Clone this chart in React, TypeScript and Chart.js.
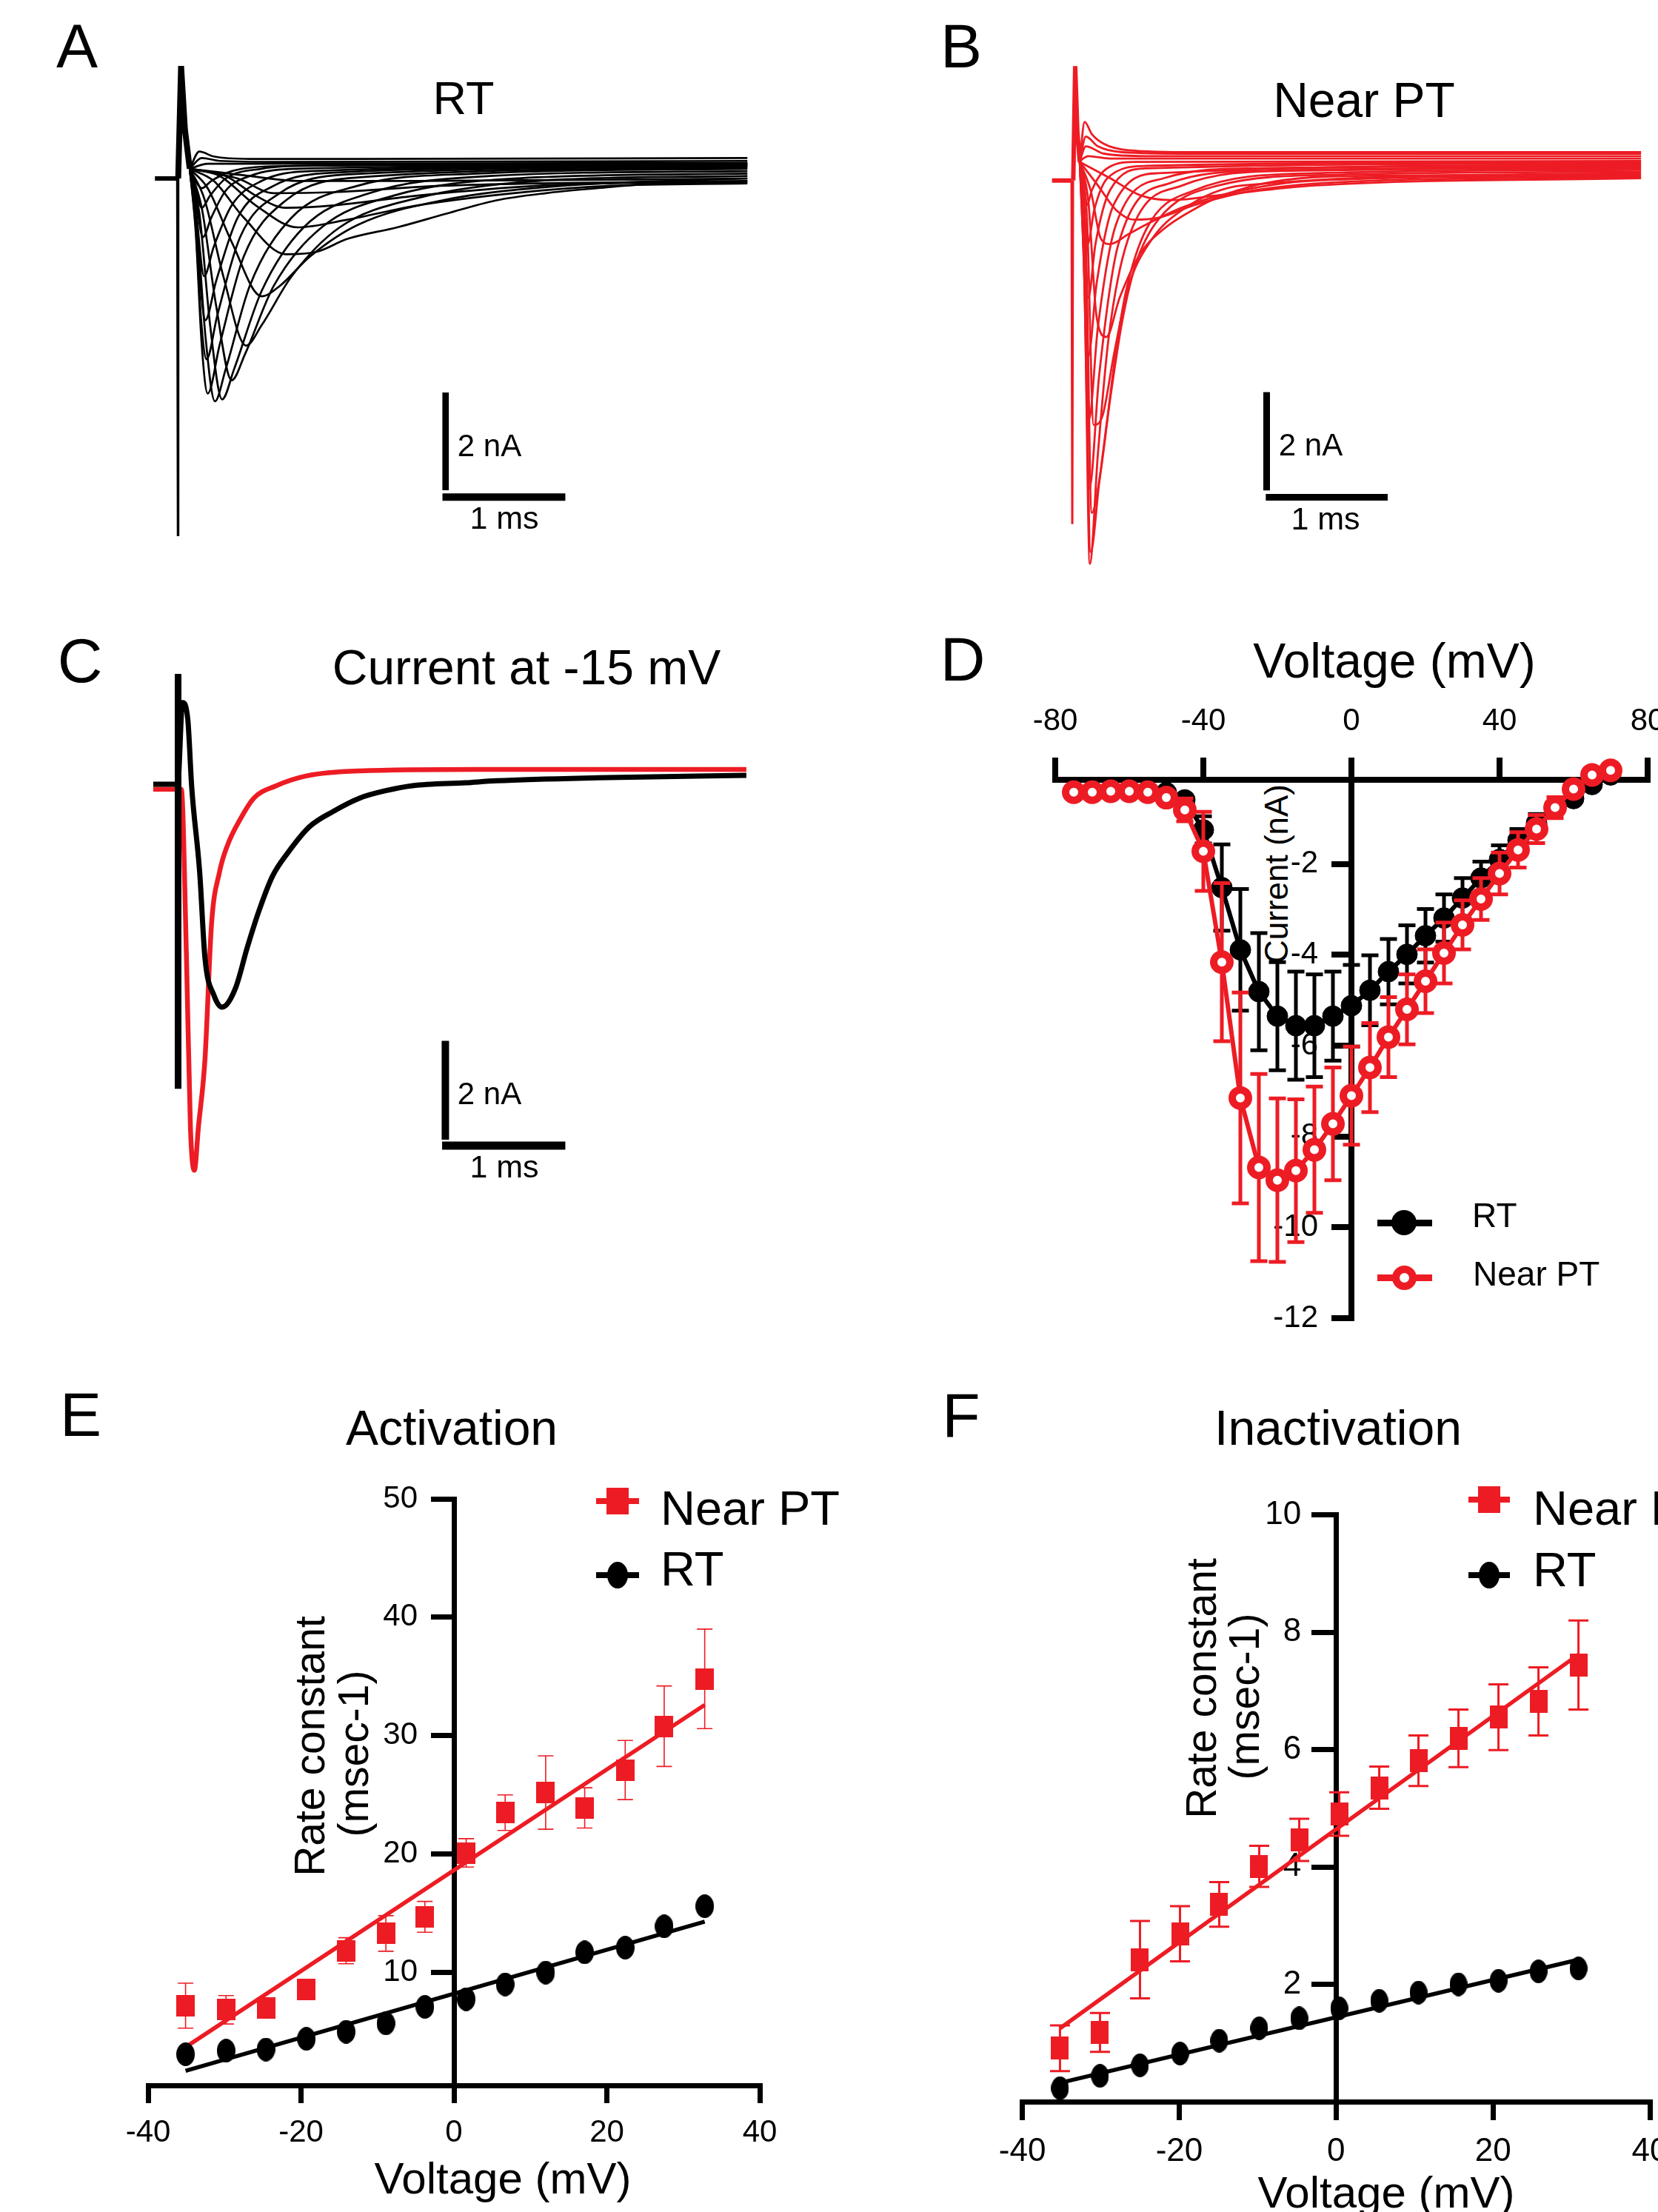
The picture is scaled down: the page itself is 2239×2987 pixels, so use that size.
import React, { useEffect, useRef } from 'react';
import { Chart, registerables } from 'chart.js';

Chart.register(...registerables);

const FONT = '"Liberation Sans", Arial, Helvetica, sans-serif';
const RED = '#ed1c24';
const BLACK = '#000000';

// ---------------- Panel A : RT current family (t in ms, I in nA) ----------------
const A_BASELINE = [[-0.19, 0], [-0.01, 0]];
const A_SPIKE_DOWN = [[-0.006, 0], [0.0, -7.3], [0.006, 0]];
const A_SPIKE_UP = [[0.004, 0], [0.028, 2.3], [0.06, 1.0], [0.1, 0.2]];
const A_TRACES = [
  [[0.1, 0.2], [0.18, 0.55], [0.3, 0.45], [0.6, 0.4], [1.5, 0.4], [4.75, 0.42]],
  [[0.1, 0.2], [0.2, 0.42], [0.35, 0.36], [0.8, 0.34], [4.75, 0.36]],
  [[0.1, 0.2], [0.25, 0.3], [0.5, 0.3], [4.75, 0.32]],
  [[0.1, 0.2], [0.16, -0.1], [0.2, -0.2], [0.28, -0.05], [0.45, 0.15], [0.8, 0.25], [4.75, 0.3]],
  [[0.1, 0.2], [0.15, -0.2], [0.2, -0.6], [0.27, -0.35], [0.4, 0.0], [0.7, 0.2], [1.2, 0.27], [4.75, 0.3]],
  [[0.1, 0.2], [0.15, -0.4], [0.21, -1.2], [0.28, -0.8], [0.4, -0.25], [0.6, 0.05], [1.0, 0.2], [4.75, 0.28]],
  [[0.1, 0.2], [0.15, -0.6], [0.22, -2.0], [0.3, -1.4], [0.45, -0.55], [0.7, -0.05], [1.1, 0.15], [4.75, 0.27]],
  [[0.1, 0.2], [0.15, -0.8], [0.19, -2.2], [0.23, -2.9], [0.32, -2.1], [0.5, -0.8], [0.8, -0.15], [1.3, 0.12], [4.75, 0.26]],
  [[0.1, 0.2], [0.15, -1.0], [0.195, -2.9], [0.24, -3.7], [0.33, -2.8], [0.52, -1.2], [0.85, -0.3], [1.4, 0.08], [4.75, 0.24]],
  [[0.1, 0.2], [0.15, -1.1], [0.2, -3.4], [0.25, -4.4], [0.35, -3.4], [0.55, -1.6], [0.9, -0.45], [1.5, 0.02], [4.75, 0.22]],
  [[0.1, 0.2], [0.16, -0.9], [0.23, -3.2], [0.31, -4.56], [0.4, -3.9], [0.6, -2.2], [0.95, -0.8], [1.5, -0.15], [2.5, 0.1], [4.75, 0.2]],
  [[0.1, 0.2], [0.18, -0.7], [0.27, -3.0], [0.37, -4.52], [0.47, -3.9], [0.7, -2.3], [1.05, -1.0], [1.6, -0.3], [2.6, 0.05], [4.75, 0.15]],
  [[0.1, 0.2], [0.2, -0.6], [0.32, -2.6], [0.45, -4.13], [0.56, -3.6], [0.8, -2.2], [1.2, -1.0], [1.8, -0.35], [2.8, 0.0], [4.75, 0.1]],
  [[0.1, 0.2], [0.22, -0.4], [0.38, -2.0], [0.57, -3.42], [0.7, -3.0], [0.95, -2.0], [1.35, -1.0], [2.0, -0.4], [3.0, -0.05], [4.75, 0.05]],
  [[0.1, 0.2], [0.25, -0.2], [0.45, -1.3], [0.7, -2.41], [0.85, -2.2], [1.1, -1.6], [1.5, -0.95], [2.2, -0.45], [3.2, -0.15], [4.75, 0.0]],
  [[0.1, 0.2], [0.3, -0.05], [0.55, -0.8], [0.9, -1.55], [1.16, -1.5], [1.41, -1.24], [1.83, -1.0], [2.24, -0.72], [2.65, -0.45], [3.07, -0.3], [3.49, -0.2], [3.89, -0.12], [4.75, -0.08]],
  [[0.1, 0.2], [0.35, 0.05], [0.65, -0.55], [1.0, -1.0], [1.4, -0.85], [2.0, -0.55], [2.8, -0.3], [3.6, -0.15], [4.75, -0.1]],
  [[0.1, 0.2], [0.4, 0.05], [0.65, -0.35], [0.9, -0.6], [1.3, -0.55], [2.0, -0.35], [3.0, -0.15], [4.75, -0.05]],
  [[0.1, 0.2], [0.5, 0.0], [0.8, -0.3], [1.3, -0.28], [2.2, -0.15], [4.75, -0.05]],
  [[0.1, 0.2], [0.6, 0.05], [1.0, -0.05], [2.0, -0.05], [4.75, 0.0]],
];
const A_BAR_V = [[2.233, -4.38], [2.233, -6.38]];
const A_BAR_H = [[2.207, -6.52], [3.231, -6.52]];

// ---------------- Panel B : Near PT current family ----------------
const B_BASELINE = [[-0.18, 0], [-0.02, 0]];
const B_SPIKE_DOWN = [[-0.018, 0], [-0.012, -7.03], [-0.006, 0]];
const B_SPIKE_UP = [[-0.004, 0], [0.012, 2.34], [0.03, 1.0], [0.05, 0.38]];
const B_TRACES = [
  [[0.05, 0.4], [0.09, 1.2], [0.15, 0.95], [0.25, 0.75], [0.45, 0.62], [1.0, 0.58], [4.7, 0.58]],
  [[0.05, 0.4], [0.1, 0.9], [0.2, 0.7], [0.4, 0.58], [1.0, 0.55], [4.7, 0.55]],
  [[0.05, 0.4], [0.1, 0.7], [0.25, 0.55], [0.6, 0.5], [4.7, 0.5]],
  [[0.05, 0.4], [0.12, 0.5], [0.3, 0.45], [4.7, 0.45]],
  [[0.05, 0.38], [0.08, 0.0], [0.11, -0.5], [0.15, -0.2], [0.25, 0.2], [0.5, 0.38], [4.7, 0.4]],
  [[0.05, 0.38], [0.08, -0.3], [0.115, -1.3], [0.17, -0.6], [0.28, 0.05], [0.6, 0.3], [4.7, 0.38]],
  [[0.05, 0.38], [0.08, -0.6], [0.12, -2.4], [0.18, -1.3], [0.3, -0.2], [0.6, 0.25], [4.7, 0.35]],
  [[0.05, 0.38], [0.08, -0.9], [0.12, -3.6], [0.19, -2.1], [0.33, -0.5], [0.7, 0.15], [4.7, 0.32]],
  [[0.05, 0.38], [0.08, -1.2], [0.125, -4.9], [0.2, -3.0], [0.35, -0.9], [0.75, 0.05], [1.5, 0.25], [4.7, 0.3]],
  [[0.05, 0.38], [0.085, -1.8], [0.13, -6.3], [0.21, -4.0], [0.37, -1.3], [0.8, -0.05], [1.6, 0.2], [4.7, 0.27]],
  [[0.05, 0.38], [0.09, -2.2], [0.133, -7.84], [0.2, -5.6], [0.29, -3.2], [0.45, -1.2], [0.9, -0.1], [1.8, 0.2], [4.7, 0.25]],
  [[0.05, 0.38], [0.09, -1.6], [0.14, -7.6], [0.21, -6.2], [0.286, -4.72], [0.348, -3.52], [0.43, -2.3], [0.6, -1.0], [1.0, -0.2], [2.0, 0.15], [4.7, 0.22]],
  [[0.05, 0.38], [0.1, -1.2], [0.15, -6.8], [0.22, -6.0], [0.3, -4.5], [0.4, -2.9], [0.511, -1.73], [0.7, -0.8], [1.2, -0.1], [2.2, 0.12], [4.7, 0.18]],
  [[0.05, 0.38], [0.11, -0.8], [0.165, -5.0], [0.24, -4.8], [0.33, -3.6], [0.45, -2.2], [0.634, -1.25], [0.9, -0.6], [1.4, -0.1], [4.7, 0.15]],
  [[0.05, 0.38], [0.12, -0.4], [0.19, -2.8], [0.27, -3.2], [0.38, -2.4], [0.55, -1.5], [0.736, -1.01], [1.04, -0.53], [1.25, -0.29], [1.66, -0.02], [2.5, 0.1], [4.7, 0.12]],
  [[0.05, 0.38], [0.14, -0.2], [0.225, -1.19], [0.3, -1.3], [0.45, -1.1], [0.6, -0.9], [0.9, -0.55], [1.3, -0.25], [2.0, 0.0], [4.7, 0.1]],
  [[0.05, 0.38], [0.2, -0.1], [0.35, -0.6], [0.5, -0.8], [0.72, -0.75], [1.0, -0.5], [1.5, -0.2], [2.5, 0.0], [4.7, 0.07]],
  [[0.05, 0.38], [0.3, 0.05], [0.55, -0.3], [0.8, -0.4], [1.2, -0.3], [2.0, -0.1], [4.7, 0.05]],
];
const B_BAR_V = [[1.598, -4.33], [1.598, -6.34]];
const B_BAR_H = [[1.591, -6.48], [2.601, -6.48]];

// ---------------- Panel C : current at -15 mV ----------------
const C_RT = [[-0.204, 0], [-0.02, 0], [0.0, 0], [0.04, 1.65], [0.084, 1.31], [0.117, -0.07], [0.183, -1.78], [0.227, -3.51], [0.302, -4.27], [0.37, -4.51], [0.481, -4.13], [0.58, -3.3], [0.679, -2.55], [0.79, -1.86], [0.92, -1.38], [1.098, -0.86], [1.296, -0.55], [1.517, -0.28], [1.735, -0.13], [1.957, -0.03], [2.399, 0.03], [2.66, 0.07], [3.5, 0.13], [4.74, 0.18]];
const C_NPT = [[-0.204, -0.1], [0.03, -0.1], [0.073, -3.51], [0.106, -6.95], [0.139, -7.81], [0.172, -6.95], [0.227, -5.57], [0.282, -2.82], [0.348, -1.78], [0.414, -1.24], [0.525, -0.69], [0.635, -0.28], [0.811, -0.04], [1.076, 0.17], [1.517, 0.27], [2.5, 0.3], [4.74, 0.3]];
const C_SPIKE = [[0.003, 2.23], [0.003, -6.16]];
const C_BAR_V = [[2.231, -5.19], [2.231, -7.19]];
const C_BAR_H = [[2.204, -7.31], [3.231, -7.31]];

// ---------------- Panel D : I-V relation ----------------
const D_V = [-75, -70, -65, -60, -55, -50, -45, -40, -35, -30, -25, -20, -15, -10, -5, 0, 5, 10, 15, 20, 25, 30, 35, 40, 45, 50, 55, 60, 65, 70];
const D_RT = [-0.42, -0.42, -0.4, -0.4, -0.42, -0.43, -0.59, -1.25, -2.52, -3.89, -4.81, -5.35, -5.56, -5.56, -5.35, -5.12, -4.78, -4.37, -3.99, -3.58, -3.19, -2.75, -2.31, -1.9, -1.48, -1.1, -0.76, -0.56, -0.25, -0.04];
const D_RT_ERR = [0, 0, 0, 0, 0, 0, 0.1, 0.3, 0.95, 1.34, 1.29, 1.19, 1.19, 1.13, 0.98, 0.9, 0.77, 0.72, 0.64, 0.59, 0.52, 0.44, 0.36, 0.31, 0.25, 0.2, 0.12, 0.08, 0, 0];
const D_NPT = [-0.42, -0.42, -0.4, -0.4, -0.42, -0.54, -0.81, -1.72, -4.16, -7.15, -8.68, -8.96, -8.75, -8.29, -7.72, -7.1, -6.48, -5.81, -5.2, -4.58, -3.96, -3.34, -2.77, -2.21, -1.69, -1.23, -0.76, -0.35, -0.04, 0.06];
const D_NPT_ERR = [0, 0, 0, 0, 0, 0.1, 0.25, 0.87, 1.74, 2.32, 2.06, 1.8, 1.57, 1.39, 1.24, 1.08, 0.98, 0.88, 0.77, 0.7, 0.67, 0.54, 0.46, 0.46, 0.39, 0.31, 0.23, 0.1, 0, 0];
const D_XTICKS = [-80, -40, 0, 40, 80];
const D_YTICKS = [-2, -4, -6, -8, -10, -12];

// ---------------- Panel E : activation rate constants ----------------
const E_V = [-35.1, -29.8, -24.6, -19.3, -14.1, -8.9, -3.8, 1.6, 6.7, 12.0, 17.1, 22.4, 27.5, 32.8];
const E_NPT = [7.2, 6.85, 7.0, 8.56, 11.84, 13.3, 14.7, 20.1, 23.5, 25.2, 23.9, 27.1, 30.8, 34.8];
const E_NPT_ERR = [1.9, 1.2, 0.6, 0.6, 1.1, 1.5, 1.3, 1.2, 1.5, 3.1, 1.7, 2.5, 3.4, 4.2];
const E_RT = [3.1, 3.4, 3.5, 4.4, 5.0, 5.7, 7.1, 7.75, 9.0, 10.0, 11.7, 12.1, 13.9, 15.6];
const E_FIT_NPT = [[-35.1, 3.7], [32.8, 32.6]];
const E_FIT_RT = [[-35.1, 1.7], [32.8, 14.3]];
const E_XTICKS = [-40, -20, 0, 20, 40];
const E_YTICKS = [10, 20, 30, 40, 50];

// ---------------- Panel F : inactivation rate constants ----------------
const F_V = [-35.2, -30.1, -25.0, -19.9, -14.9, -9.8, -4.7, 0.4, 5.5, 10.5, 15.6, 20.7, 25.8, 30.9];
const F_NPT = [0.91, 1.18, 2.42, 2.86, 3.36, 4.01, 4.46, 4.9, 5.35, 5.81, 6.19, 6.55, 6.82, 7.44];
const F_NPT_ERR = [0.39, 0.33, 0.66, 0.47, 0.38, 0.35, 0.36, 0.37, 0.36, 0.43, 0.49, 0.56, 0.58, 0.76];
const F_RT = [0.23, 0.44, 0.62, 0.82, 1.04, 1.25, 1.42, 1.59, 1.72, 1.86, 2.0, 2.06, 2.22, 2.27];
const F_FIT_NPT = [[-35.2, 1.25], [30.9, 7.62]];
const F_FIT_RT = [[-35.2, 0.32], [30.9, 2.42]];
const F_XTICKS = [-40, -20, 0, 20, 40];
const F_YTICKS = [2, 4, 6, 8, 10];

// ---------------- helpers ----------------
const toXY = (pts: number[][]) => pts.map(([x, y]) => ({ x, y }));
const zipXY = (xs: number[], ys: number[]) => xs.map((x, i) => ({ x, y: ys[i] }));

function lineDs(pts: number[][], color: string, width: number, extra: any = {}) {
  return {
    data: toXY(pts),
    showLine: true,
    borderColor: color,
    backgroundColor: color,
    borderWidth: width,
    pointRadius: 0,
    pointHoverRadius: 0,
    cubicInterpolationMode: 'monotone',
    fill: false,
    borderCapStyle: 'butt',
    ...extra,
  };
}
const straight = { cubicInterpolationMode: 'default', tension: 0 };

function marker(shape: string, w: number, h: number, color: string) {
  const c = document.createElement('canvas');
  c.width = w;
  c.height = h;
  const ctx = c.getContext('2d') as CanvasRenderingContext2D;
  ctx.fillStyle = color;
  if (shape === 'rect') ctx.fillRect(0, 0, w, h);
  else {
    ctx.beginPath();
    ctx.ellipse(w / 2, h / 2, w / 2, h / 2, 0, 0, Math.PI * 2);
    ctx.fill();
  }
  return c;
}

const errorBarPlugin = {
  id: 'errorBars',
  beforeDatasetDraw(chart: any, args: any) {
    const ds = chart.data.datasets[args.index];
    if (!ds.errors) return;
    const meta = args.meta;
    const yScale = chart.scales[meta.yAxisID];
    const ctx = chart.ctx;
    ctx.save();
    ctx.strokeStyle = ds.errColor;
    ctx.lineWidth = ds.errWidth;
    ctx.lineCap = 'butt';
    meta.data.forEach((pt: any, i: number) => {
      const e = ds.errors[i];
      if (!e) return;
      const v = ds.data[i].y;
      const top = yScale.getPixelForValue(v + e);
      const bot = yScale.getPixelForValue(v - e);
      const h = ds.errCap / 2;
      ctx.beginPath();
      ctx.moveTo(pt.x, top);
      ctx.lineTo(pt.x, bot);
      ctx.moveTo(pt.x - h, top);
      ctx.lineTo(pt.x + h, top);
      ctx.moveTo(pt.x - h, bot);
      ctx.lineTo(pt.x + h, bot);
      ctx.stroke();
    });
    ctx.restore();
  },
};

// y tick labels for a y axis that crosses the x axis at x = 0 (drawn beneath the data)
function yLabelPlugin(values: number[], gap: number, size: number) {
  return {
    id: 'yCrossLabels',
    beforeDatasetsDraw(chart: any) {
      const xs = chart.scales.x;
      const ys = chart.scales.y;
      const ctx = chart.ctx;
      const x = xs.getPixelForValue(0) - gap;
      ctx.save();
      ctx.fillStyle = BLACK;
      ctx.font = `${size}px ${FONT}`;
      ctx.textAlign = 'right';
      ctx.textBaseline = 'middle';
      values.forEach((v) => ctx.fillText(String(v), x, ys.getPixelForValue(v)));
      ctx.restore();
    },
  };
}

function baseOptions(padding: any, scales: any) {
  return {
    animation: false,
    responsive: false,
    maintainAspectRatio: false,
    events: [],
    layout: { padding },
    plugins: { legend: { display: false }, tooltip: { enabled: false }, title: { display: false } },
    scales,
  };
}

function hiddenScales(xr: number[], yr: number[]) {
  return {
    x: { type: 'linear', min: xr[0], max: xr[1], display: false },
    y: { type: 'linear', min: yr[0], max: yr[1], display: false },
  };
}

function axis(o: any) {
  return {
    type: 'linear',
    min: o.min,
    max: o.max,
    position: o.position,
    afterBuildTicks: (s: any) => {
      s.ticks = o.ticks.map((value: number) => ({ value }));
    },
    grid: { display: true, drawOnChartArea: false, drawTicks: true, tickLength: o.tickLength, lineWidth: o.lineWidth, color: BLACK, tickColor: BLACK },
    border: { display: true, width: o.lineWidth, color: BLACK },
    ticks: { display: o.showLabels !== false, color: BLACK, font: { family: FONT, size: o.size }, padding: o.padding, autoSkip: false, maxRotation: 0, minRotation: 0, callback: (v: any) => String(v) },
  };
}

// ---------------- chart configs ----------------
function configA() {
  const ds: any[] = [];
  A_TRACES.forEach((t) => ds.push(lineDs(t, BLACK, 2.7)));
  ds.push(lineDs(A_BASELINE, BLACK, 6, straight));
  ds.push(lineDs(A_SPIKE_DOWN, BLACK, 2.5, straight));
  ds.push(lineDs(A_SPIKE_UP, BLACK, 8, straight));
  ds.push(lineDs(A_BAR_V, BLACK, 8.7, straight));
  ds.push(lineDs(A_BAR_H, BLACK, 10, straight));
  return {
    type: 'scatter',
    data: { datasets: ds },
    options: baseOptions({ left: 199.5, right: 50.5, top: 76, bottom: 44 }, hiddenScales([-0.25, 4.75], [-7.5, 2.5])),
  };
}

function configB() {
  const ds: any[] = [];
  B_TRACES.forEach((t) => ds.push(lineDs(t, RED, 2.8)));
  ds.push(lineDs(B_BASELINE, RED, 6, straight));
  ds.push(lineDs(B_SPIKE_DOWN, RED, 3, straight));
  ds.push(lineDs(B_SPIKE_UP, RED, 6, straight));
  ds.push(lineDs(B_BAR_V, BLACK, 9, { ...straight, order: -1 }));
  ds.push(lineDs(B_BAR_H, BLACK, 9, { ...straight, order: -1 }));
  return {
    type: 'scatter',
    data: { datasets: ds },
    options: baseOptions({ left: 229.25, right: 14.75, top: 78.8, bottom: 25.2 }, hiddenScales([-0.25, 4.75], [-8.5, 2.5])),
  };
}

function configC() {
  const ds: any[] = [
    lineDs(C_SPIKE, BLACK, 9, { ...straight, order: 0 }),
    lineDs(C_RT, BLACK, 7, { order: 1 }),
    lineDs(C_NPT, RED, 6.5, { order: 2 }),
    lineDs(C_BAR_V, BLACK, 10, { ...straight, order: 0 }),
    lineDs(C_BAR_H, BLACK, 11, { ...straight, order: 0 }),
  ];
  return {
    type: 'scatter',
    data: { datasets: ds },
    options: baseOptions({ left: 199.5, right: 50.5, top: 32.1, bottom: 33.6 }, hiddenScales([-0.25, 4.75], [-8.5, 2.5])),
  };
}

function configD() {
  const ds: any[] = [
    {
      label: 'Near PT',
      data: zipXY(D_V, D_NPT),
      showLine: true,
      borderColor: RED,
      borderWidth: 6,
      tension: 0,
      pointRadius: 11,
      pointBorderWidth: 10,
      pointBorderColor: RED,
      pointBackgroundColor: '#ffffff',
      pointHoverRadius: 11,
      errors: D_NPT_ERR,
      errColor: RED,
      errWidth: 5,
      errCap: 23,
      clip: false,
      order: 0,
    },
    {
      label: 'RT',
      data: zipXY(D_V, D_RT),
      showLine: true,
      borderColor: BLACK,
      borderWidth: 6,
      tension: 0,
      pointRadius: 14,
      pointBorderWidth: 1,
      pointBorderColor: BLACK,
      pointBackgroundColor: BLACK,
      pointHoverRadius: 14,
      errors: D_RT_ERR,
      errColor: BLACK,
      errWidth: 5,
      errCap: 23,
      clip: false,
      order: 1,
    },
  ];
  const scales = {
    x: axis({ min: -80, max: 80, position: 'top', ticks: D_XTICKS, tickLength: 30, lineWidth: 8, size: 42, padding: 23 }),
    y: axis({ min: -12, max: -0.147, position: { x: 0 }, ticks: D_YTICKS, tickLength: 23, lineWidth: 8, size: 42, padding: 22, showLabels: false }),
  };
  return {
    type: 'scatter',
    data: { datasets: ds },
    options: baseOptions({ left: 175, right: 125, top: 76.6, bottom: 59.8 }, scales),
    plugins: [errorBarPlugin, yLabelPlugin(D_YTICKS, 45, 42)],
  };
}

function configE() {
  const sq = marker('rect', 25, 29, RED);
  const ci = marker('ellipse', 25, 32, BLACK);
  const ds: any[] = [
    { label: 'Near PT', data: zipXY(E_V, E_NPT), showLine: false, pointStyle: sq, pointRadius: 12, errors: E_NPT_ERR, errColor: RED, errWidth: 1.6, errCap: 21, clip: false, order: 0 },
    { label: 'RT', data: zipXY(E_V, E_RT), showLine: false, pointStyle: ci, pointRadius: 12, clip: false, order: 1 },
    lineDs(E_FIT_NPT, RED, 5.5, { ...straight, order: 2 }),
    lineDs(E_FIT_RT, BLACK, 5.5, { ...straight, order: 3 }),
  ];
  const scales = {
    x: axis({ min: -40, max: 40, position: { y: 0.47 }, ticks: E_XTICKS, tickLength: 20, lineWidth: 7, size: 42, padding: 19 }),
    y: axis({ min: 0.47, max: 50, position: { x: 0 }, ticks: E_YTICKS, tickLength: 28, lineWidth: 7, size: 42, padding: 21, showLabels: false }),
  };
  return {
    type: 'scatter',
    data: { datasets: ds },
    options: baseOptions({ left: 200, right: 94, top: 144, bottom: 171 }, scales),
    plugins: [errorBarPlugin, yLabelPlugin(E_YTICKS, 49, 42)],
  };
}

function configF() {
  const sq = marker('rect', 24, 31, RED);
  const ci = marker('ellipse', 24, 32, BLACK);
  const ds: any[] = [
    { label: 'Near PT', data: zipXY(F_V, F_NPT), showLine: false, pointStyle: sq, pointRadius: 12, errors: F_NPT_ERR, errColor: RED, errWidth: 3, errCap: 27, clip: false, order: 0 },
    { label: 'RT', data: zipXY(F_V, F_RT), showLine: false, pointStyle: ci, pointRadius: 12, clip: false, order: 1 },
    lineDs(F_FIT_NPT, RED, 5.5, { ...straight, order: 2 }),
    lineDs(F_FIT_RT, BLACK, 5.5, { ...straight, order: 3 }),
  ];
  const scales = {
    x: axis({ min: -40, max: 40, position: { y: 0 }, ticks: F_XTICKS, tickLength: 21, lineWidth: 7, size: 44, padding: 20 }),
    y: axis({ min: 0, max: 10, position: { x: 0 }, ticks: F_YTICKS, tickLength: 30, lineWidth: 7, size: 44, padding: 17, showLabels: false }),
  };
  return {
    type: 'scatter',
    data: { datasets: ds },
    options: baseOptions({ left: 200.6, right: 152, top: 165.5, bottom: 149 }, scales),
    plugins: [errorBarPlugin, yLabelPlugin(F_YTICKS, 47, 44)],
  };
}

// ---------------- components ----------------
function ChartCanvas({ left, top, width, height, make }: any) {
  const ref = useRef<HTMLCanvasElement>(null);
  useEffect(() => {
    const chart = new Chart(ref.current as HTMLCanvasElement, make());
    return () => chart.destroy();
  }, []);
  return (
    <canvas
      ref={ref}
      width={width}
      height={height}
      style={{ position: 'absolute', left, top, width, height, display: 'block' }}
    />
  );
}

function Txt({ x, y, size, children, anchor = 'center', rotate = 0, color = BLACK }: any) {
  const tx = anchor === 'left' ? '0' : '-50%';
  return (
    <div
      style={{
        position: 'absolute',
        left: x,
        top: y,
        transform: `translate(${tx}, -50%) rotate(${rotate}deg)`,
        fontFamily: FONT,
        fontSize: size,
        lineHeight: 1,
        whiteSpace: 'nowrap',
        color,
      }}
    >
      {children}
    </div>
  );
}

function Box({ cx, cy, w, h, color, round = false, border = 0, fill }: any) {
  return (
    <div
      style={{
        position: 'absolute',
        left: cx - w / 2,
        top: cy - h / 2,
        width: w,
        height: h,
        boxSizing: 'border-box',
        background: fill || color,
        border: border ? `${border}px solid ${color}` : 'none',
        borderRadius: round ? '50%' : 0,
      }}
    />
  );
}

export default function App() {
  return (
    <div
      style={{
        position: 'absolute',
        left: 0,
        top: 0,
        width: 2239,
        height: 2987,
        overflow: 'hidden',
        background: '#ffffff',
        fontFamily: FONT,
      }}
    >
      {/* D axis title sits beneath the data */}
      <Txt x={1724} y={1180} size={44} rotate={-90}>Current (nA)</Txt>

      <ChartCanvas left={0} top={0} width={1060} height={780} make={configA} />
      <ChartCanvas left={1180} top={0} width={1059} height={830} make={configB} />
      <ChartCanvas left={0} top={860} width={1060} height={800} make={configC} />
      <ChartCanvas left={1250} top={850} width={1100} height={990} make={configD} />
      <ChartCanvas left={0} top={1880} width={1120} height={1107} make={configE} />
      <ChartCanvas left={1180} top={1880} width={1200} height={1107} make={configF} />

      {/* panel letters */}
      <Txt x={104} y={62} size={84}>A</Txt>
      <Txt x={1298} y={62} size={84}>B</Txt>
      <Txt x={108} y={892} size={84}>C</Txt>
      <Txt x={1300} y={890} size={84}>D</Txt>
      <Txt x={109} y={1910} size={84}>E</Txt>
      <Txt x={1298} y={1911} size={84}>F</Txt>

      {/* A */}
      <Txt x={626} y={132} size={63}>RT</Txt>
      <Txt x={661} y={602} size={42}>2 nA</Txt>
      <Txt x={681} y={699} size={43}>1 ms</Txt>

      {/* B */}
      <Txt x={1842} y={135} size={66}>Near PT</Txt>
      <Txt x={1770} y={601} size={42}>2 nA</Txt>
      <Txt x={1790} y={700} size={43}>1 ms</Txt>

      {/* C */}
      <Txt x={711} y={901} size={66}>Current at -15 mV</Txt>
      <Txt x={661} y={1477} size={42}>2 nA</Txt>
      <Txt x={681} y={1575} size={43}>1 ms</Txt>

      {/* D */}
      <Txt x={1883} y={892} size={66}>Voltage (mV)</Txt>
      <Box cx={1897} cy={1651} w={74} h={9} color={BLACK} />
      <Box cx={1896} cy={1651} w={34} h={34} color={BLACK} round />
      <Box cx={1897} cy={1725} w={74} h={9} color={RED} />
      <Box cx={1896} cy={1725} w={33} h={33} color={RED} round border={10} fill="#ffffff" />
      <Txt x={1988} y={1641} size={46} anchor="left">RT</Txt>
      <Txt x={1989} y={1720} size={46} anchor="left">Near PT</Txt>

      {/* E */}
      <Txt x={610} y={1928} size={66}>Activation</Txt>
      <Txt x={418} y={2358} size={57} rotate={-90}>Rate constant</Txt>
      <Txt x={477} y={2368} size={57} rotate={-90}>(msec-1)</Txt>
      <Txt x={679} y={2942} size={60}>Voltage (mV)</Txt>
      <Box cx={834} cy={2027} w={58} h={8} color={RED} />
      <Box cx={834} cy={2027} w={30} h={36} color={RED} />
      <Box cx={834} cy={2127} w={58} h={8} color={BLACK} />
      <Box cx={834} cy={2127} w={28} h={36} color={BLACK} round />
      <Txt x={892} y={2036} size={65} anchor="left">Near PT</Txt>
      <Txt x={892} y={2118} size={65} anchor="left">RT</Txt>

      {/* F */}
      <Txt x={1807} y={1928} size={66}>Inactivation</Txt>
      <Txt x={1622} y={2280} size={57} rotate={-90}>Rate constant</Txt>
      <Txt x={1680} y={2291} size={57} rotate={-90}>(msec-1)</Txt>
      <Txt x={1872} y={2961} size={60}>Voltage (mV)</Txt>
      <Box cx={2011} cy={2025} w={56} h={8} color={RED} />
      <Box cx={2011} cy={2025} w={30} h={36} color={RED} />
      <Box cx={2011} cy={2127} w={56} h={8} color={BLACK} />
      <Box cx={2011} cy={2127} w={28} h={36} color={BLACK} round />
      <Txt x={2070} y={2036} size={65} anchor="left">Near PT</Txt>
      <Txt x={2070} y={2119} size={65} anchor="left">RT</Txt>
    </div>
  );
}
